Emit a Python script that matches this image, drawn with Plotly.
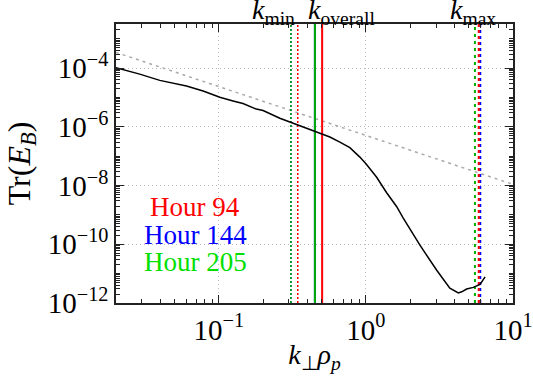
import plotly.graph_objects as go
import numpy as np

# Black spectrum curve
k_perp = [0.02, 0.029, 0.0397, 0.0603, 0.0782, 0.1016, 0.125, 0.146, 0.180, 0.200,
          0.260, 0.304, 0.338, 0.416, 0.450, 0.569, 0.665, 0.778, 0.910, 1.01,
          1.18, 1.38, 1.62, 1.79, 2.33, 3.03, 3.72, 4.25, 4.48, 4.84,
          5.37, 5.97, 6.46]
tr_EB = [1.02e-4, 6.2e-5, 3.8e-5, 2.45e-5, 1.66e-5, 1.02e-5, 7.6e-6, 6.2e-6, 4.0e-6, 3.6e-6,
         1.95e-6, 1.45e-6, 1.23e-6, 8.3e-7, 7.1e-7, 4.5e-7, 3.0e-7, 1.95e-7, 9.3e-8, 5.2e-8,
         1.95e-8, 5.8e-9, 1.9e-9, 7.9e-10, 9.3e-11, 1.3e-11, 3.2e-12, 2.2e-12, 2.4e-12, 3.0e-12,
         3.4e-12, 4.3e-12, 7.8e-12]

# Reference (-5/3) dashed line endpoints
ref_k = [0.02, 10.0]
ref_E = [3.4e-4, 1.1e-8]

# Vertical lines per hour: (k_min, k_overall, k_max)
hours = ["Hour 94", "Hour 144", "Hour 205"]
hour_colors = ["#ff0000", "#0000ff", "#00b000"]
hour_text_colors = ["#ff0000", "#0000ff", "#00e000"]
k_min = [0.344, 0.309, 0.309]
k_overall = [0.504, 0.450, 0.450]
k_max = [5.85, 5.99, 5.51]

xtick_vals = [0.1, 1, 10]
xtick_text = ["10<sup>−1</sup>", "10<sup>0</sup>", "10<sup>1</sup>"]
ytick_vals = [1e-12, 1e-10, 1e-8, 1e-6, 1e-4]
ytick_text = ["10<sup>−12</sup>", "10<sup>−10</sup>", "10<sup>−8</sup>", "10<sup>−6</sup>", "10<sup>−4</sup>"]

# minor tick positions (2..9 within each decade)
x_minor = [m * 10.0 ** d for d in range(-2, 1) for m in range(2, 10)]
y_minor = [m * 10.0 ** d for d in range(-12, -2) for m in range(1, 10)]

FONT = "Liberation Serif"
YMIN, YMAX = 1e-12, 10 ** -2.5

fig = go.Figure()

fig.add_trace(go.Scatter(x=ref_k, y=ref_E, mode="lines",
                         line=dict(color="#aaaaaa", width=1.5, dash="3px,4px"),
                         showlegend=False, hoverinfo="skip"))

# draw order: blue, red, green (green on top)
for i in [1, 0, 2]:
    c = hour_colors[i]
    fig.add_trace(go.Scatter(x=[k_min[i], k_min[i]], y=[YMIN, YMAX], mode="lines",
                             line=dict(color=c, width=1.5, dash="2px,2px"), showlegend=False))
    fig.add_trace(go.Scatter(x=[k_overall[i], k_overall[i]], y=[YMIN, YMAX], mode="lines",
                             line=dict(color=c, width=2), showlegend=False))
    fig.add_trace(go.Scatter(x=[k_max[i], k_max[i]], y=[YMIN, YMAX], mode="lines",
                             line=dict(color=c, width=2, dash="3px,3px" if i != 2 else "3px,4px"),
                             showlegend=False))

fig.add_trace(go.Scatter(x=k_perp, y=tr_EB, mode="lines",
                         line=dict(color="black", width=1.5), showlegend=False))

axis_common = dict(
    type="log", showline=True, linecolor="#222222", linewidth=1.5, mirror="allticks",
    ticks="inside", ticklen=8, tickwidth=1.2, tickcolor="#222222",
    showgrid=True, gridcolor="#bbbbbb", griddash="1px,3px", gridwidth=1.2,
    zeroline=False, automargin=False, tickmode="array",
    tickfont=dict(family=FONT, size=29, color="black"),
)

fig.update_xaxes(**axis_common, range=[np.log10(0.02), 1],
                 tickvals=xtick_vals, ticktext=xtick_text,
                 minor=dict(tickvals=x_minor, ticks="inside", ticklen=4, tickwidth=1,
                            tickcolor="#222222", showgrid=False),
                 title=dict(text="<i>k</i><sub>⊥</sub><i>ρ</i><sub><i>p</i></sub>",
                            font=dict(family=FONT, size=28, color="black"), standoff=0))
fig.update_yaxes(**axis_common, range=[-12, -2.5],
                 tickvals=ytick_vals, ticktext=ytick_text,
                 minor=dict(tickvals=y_minor, ticks="inside", ticklen=4, tickwidth=1,
                            tickcolor="#222222", showgrid=False),
                 title=dict(text="Tr(<i>E</i><sub><i>B</i></sub>)",
                            font=dict(family=FONT, size=32, color="black"), standoff=8))

# Top labels
for txt, xpx in [("<i>k</i><sub>min</sub>", -0.626), ("<i>k</i><sub>overall</sub>", -0.163),
                 ("<i>k</i><sub>max</sub>", 0.728)]:
    fig.add_annotation(x=xpx, y=1.0, xref="x", yref="paper", text=txt, showarrow=False,
                       yanchor="bottom", yshift=-6, borderpad=0,
                       font=dict(family=FONT, size=28, color="black"))

# Hour legend texts
for j, (h, c) in enumerate(zip(hours, hour_text_colors)):
    fig.add_annotation(x=-1.16, y=-8.74 - j * 0.93, xref="x", yref="y", text=h,
                       showarrow=False, font=dict(family=FONT, size=27, color=c))

fig.update_layout(width=533, height=378, margin=dict(l=116, r=20, t=24, b=75),
                  plot_bgcolor="white", paper_bgcolor="white", showlegend=False)

# remove the default page margin so the figure sits at the window's top-left corner
fig.write_html("out.html", config={"displayModeBar": False},
               post_script="document.body.style.margin='0';")
